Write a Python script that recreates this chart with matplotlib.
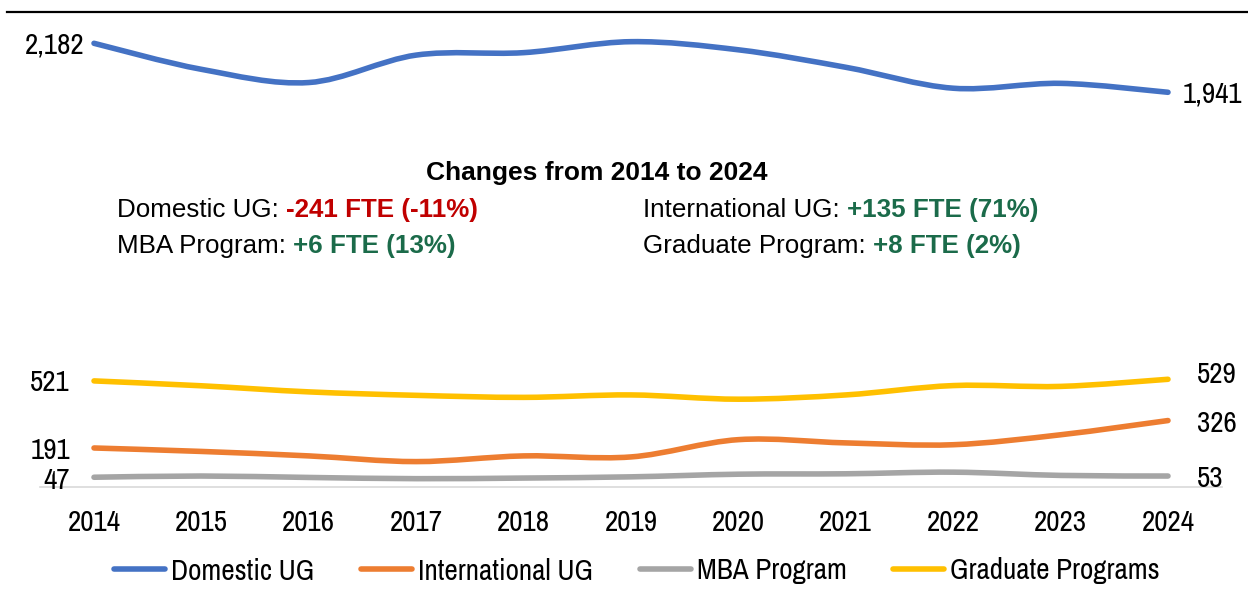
import matplotlib
matplotlib.use('Agg')
import matplotlib.pyplot as plt
from matplotlib.path import Path
from matplotlib.patches import PathPatch
from matplotlib.lines import Line2D
from matplotlib import font_manager

years = [2014, 2015, 2016, 2017, 2018, 2019, 2020, 2021, 2022, 2023, 2024]
domestic_ug = [2182, 2054, 1989, 2124, 2136, 2190, 2150, 2064, 1961, 1985, 1941]
international_ug = [191, 174, 152, 124, 152, 147, 232, 216, 207, 256, 326]
mba_program = [47, 53, 46, 40, 43, 49, 62, 64, 72, 56, 53]
graduate_programs = [521, 497, 467, 450, 440, 452, 431, 452, 498, 494, 529]

series_names = ['Domestic UG', 'International UG', 'MBA Program', 'Graduate Programs']
series_colors = ['#4472C4', '#ED7D31', '#A5A5A5', '#FFC000']

change_rows = [
    ('Domestic UG: ', '-241 FTE (-11%)', '#C00000'),
    ('International UG: ', '+135 FTE (71%)', '#1B6B4A'),
    ('MBA Program: ', '+6 FTE (13%)', '#1B6B4A'),
    ('Graduate Program: ', '+8 FTE (2%)', '#1B6B4A'),
]

# the chart uses a narrow font (Arial Narrow); pick the closest one installed
names = sorted({f.name for f in font_manager.fontManager.ttflist})
narrow = None
for want in ['Liberation Sans Narrow', 'Arial Narrow']:
    if want in names:
        narrow = want
        break
if narrow is None:
    cands = [n for n in names if 'Narrow' in n] + [n for n in names if 'Condensed' in n]
    narrow = cands[0] if cands else None
if narrow:
    nsize = 21
else:
    narrow = 'Liberation Sans'
    nsize = 18.5
wide = 'Liberation Sans'


def smooth_path(xs, ys):
    # excel-like smoothed line: bezier through every point
    pts = list(zip(xs, ys))
    n = len(pts)
    verts = [pts[0]]
    codes = [Path.MOVETO]
    for i in range(n - 1):
        p0 = pts[max(i - 1, 0)]
        p1 = pts[i]
        p2 = pts[i + 1]
        p3 = pts[min(i + 2, n - 1)]
        c1 = (p1[0] + (p2[0] - p0[0]) / 6, p1[1] + (p2[1] - p0[1]) / 6)
        c2 = (p2[0] - (p3[0] - p1[0]) / 6, p2[1] - (p3[1] - p1[1]) / 6)
        verts += [c1, c2, p2]
        codes += [Path.CURVE4] * 3
    return Path(verts, codes)


W, H = 1248, 599
fig = plt.figure(figsize=(W / 100, H / 100), dpi=100)
ax = fig.add_axes([40.3 / W, 1 - 486.8 / H, 1181.4 / W, 474.8 / H])

xs = list(range(len(years)))
all_series = [domestic_ug, international_ug, mba_program, graduate_programs]
for vals, col in zip(all_series, series_colors):
    patch = PathPatch(smooth_path(xs, vals), facecolor='none', edgecolor=col,
                      lw=4, capstyle='round', joinstyle='round')
    ax.add_patch(patch)

ax.set_xlim(-0.5, len(years) - 0.5)
ax.set_ylim(0, 2336)
ax.set_xticks(xs)
ax.set_xticklabels([str(y) for y in years], fontfamily=narrow, fontsize=nsize)
ax.tick_params(axis='x', length=0, pad=16)
ax.set_yticks([])
for s in ['top', 'left', 'right']:
    ax.spines[s].set_visible(False)
ax.spines['bottom'].set_color('#D9D9D9')
ax.spines['bottom'].set_linewidth(1.2)

# end labels (pixel offsets from the first / last point)
label_offsets = [((-10, -2), (15, -2)),
                 ((-24, -3), (29, -3)),
                 ((-24, -3), (29, -2)),
                 ((-24, -2), (29, 5))]
for vals, (lo, ro) in zip(all_series, label_offsets):
    ax.annotate(f'{vals[0]:,}', xy=(0, vals[0]), xytext=lo, textcoords='offset pixels',
                ha='right', va='center', fontfamily=narrow, fontsize=nsize)
    ax.annotate(f'{vals[-1]:,}', xy=(len(vals) - 1, vals[-1]), xytext=ro,
                textcoords='offset pixels', ha='left', va='center',
                fontfamily=narrow, fontsize=nsize)

# changes box
fig.text(597 / W, 1 - 173 / H, 'Changes from 2014 to 2024', ha='center', va='center',
         fontfamily=wide, fontsize=19, fontweight='bold')
row_pos = [(117, 210), (643, 210), (117, 246), (643, 246)]
for (lab, val, col), (px, py) in zip(change_rows, row_pos):
    t = fig.text(px / W, 1 - py / H, lab, ha='left', va='center',
                 fontfamily=wide, fontsize=18.7)
    ax.annotate(val, xy=(1, 0), xycoords=t, ha='left', va='bottom',
                fontfamily=wide, fontsize=18.7, fontweight='bold', color=col,
                annotation_clip=False)

# line along the top
fig.add_artist(Line2D([7 / W, 1], [1 - 12 / H, 1 - 12 / H], transform=fig.transFigure,
                      color='black', lw=1.6))

handles = [Line2D([], [], color=c, lw=4, solid_capstyle='round') for c in series_colors]
fig.legend(handles, series_names, loc='center', bbox_to_anchor=(637 / W, 1 - 571 / H),
           ncol=4, frameon=False, handlelength=1.75, handletextpad=0.2,
           columnspacing=1.6, prop={'family': narrow, 'size': nsize})

fig.savefig('out.png', dpi=100)
